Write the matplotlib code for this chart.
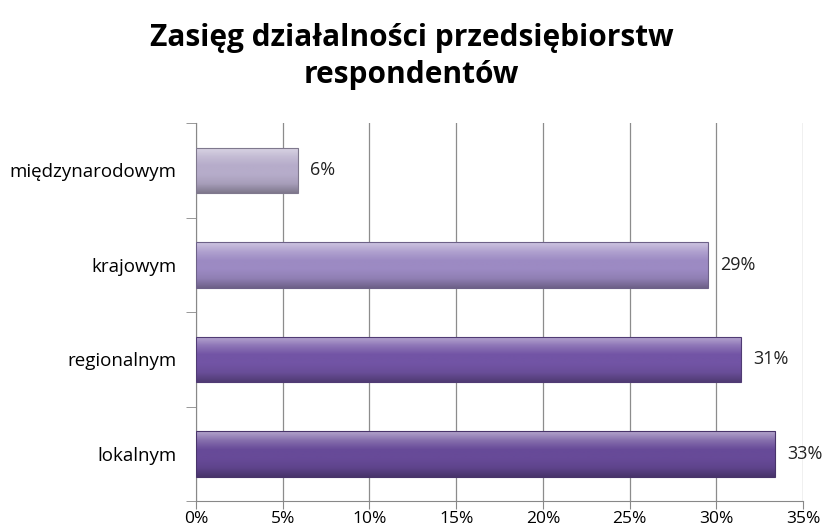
import numpy as np
import matplotlib
matplotlib.use("Agg")
import matplotlib.pyplot as plt
from matplotlib.colors import LinearSegmentedColormap
from matplotlib.patches import Rectangle

categories = ["lokalnym", "regionalnym", "krajowym", "międzynarodowym"]
values = [33.4, 31.4, 29.5, 5.9]
value_labels = ["33%", "31%", "29%", "6%"]
x_ticks = [0, 5, 10, 15, 20, 25, 30, 35]
x_tick_labels = ["0%", "5%", "10%", "15%", "20%", "25%", "30%", "35%"]
bar_colors = ["#674a98", "#7254a5", "#9c8ac3", "#b6acca"]

plt.rcParams["font.family"] = ["Open Sans", "DejaVu Sans"]

fig = plt.figure(figsize=(8.23, 5.31), dpi=100)
ax = fig.add_axes([0.238, 0.056, 0.738, 0.712])

bar_h = 0.48


def shade(c, f):
    c = np.array(matplotlib.colors.to_rgb(c))
    if f > 0:
        return tuple(c + (1 - c) * f)
    return tuple(c * (1 + f))


for i, (v, col) in enumerate(zip(values, bar_colors)):
    y0 = i - bar_h / 2
    # vertical gradient: dark bottom edge, body, light top edge
    cmap = LinearSegmentedColormap.from_list(
        "b%d" % i,
        [shade(col, -0.3), shade(col, -0.08), col, col, shade(col, 0.2), shade(col, 0.5)],
    )
    grad = np.linspace(0, 1, 64).reshape(-1, 1)
    im = ax.imshow(grad, cmap=cmap, aspect="auto", origin="lower",
                   extent=[0, v, y0, y0 + bar_h], zorder=3)
    rect = Rectangle((0, y0), v, bar_h, facecolor="none",
                     edgecolor=shade(col, -0.3), linewidth=0.8, zorder=4)
    ax.add_patch(rect)
    im.set_clip_path(rect)
    ax.text(v + 0.7, i, value_labels[i], va="center", ha="left",
            fontsize=13, color="#222222", zorder=5)

ax.set_xlim(0, 35)
ax.set_ylim(-0.5, 3.5)
ax.set_xticks(x_ticks)
ax.set_xticklabels(x_tick_labels, fontsize=12.5)
ax.set_yticks(range(len(categories)))
ax.set_yticklabels(categories, fontsize=13.5)
ax.set_yticks(np.arange(-0.5, 4.0, 1.0), minor=True)
ax.tick_params(axis="y", which="major", length=0, pad=14)
ax.tick_params(axis="y", which="minor", length=7, color="#888888")
ax.tick_params(axis="x", length=6, color="#888888", pad=1)

ax.grid(axis="x", color="#8c8c8c", linewidth=0.9, zorder=0)
ax.set_axisbelow(True)
for s in ["top", "right"]:
    ax.spines[s].set_visible(False)
for s in ["left", "bottom"]:
    ax.spines[s].set_color("#888888")

fig.text(0.5, 0.894, "Zasięg działalności przedsiębiorstw\nrespondentów",
         ha="center", va="center", fontsize=21.5, fontweight="bold",
         linespacing=1.3)

fig.savefig("out.png", dpi=100)
